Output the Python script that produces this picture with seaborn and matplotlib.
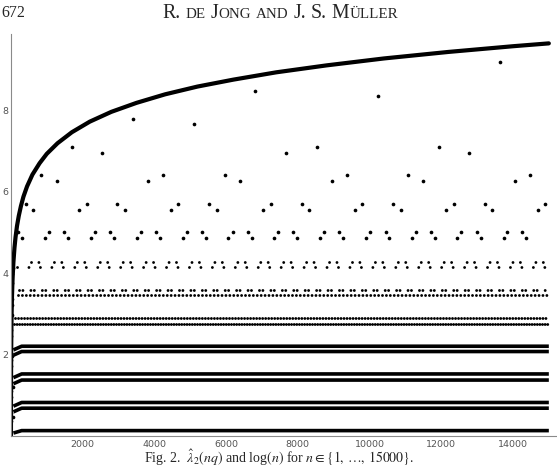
import pandas as pd
import seaborn as sns
import matplotlib.pyplot as plt

# upper curve log(n)
log_n = [1, 2, 3, 5, 7, 10, 15, 20, 30, 40, 50, 70, 100, 130, 170, 220, 280, 350,
         450, 600, 800, 1000, 1300, 1700, 2200, 2800, 3500, 4300, 5200, 6200, 7400,
         8800, 10400, 12200, 14000, 15000]
log_y = [0.0, 0.69, 1.10, 1.61, 1.95, 2.30, 2.71, 3.00, 3.40, 3.69, 3.91, 4.25,
         4.61, 4.87, 5.14, 5.39, 5.63, 5.86, 6.11, 6.40, 6.68, 6.91, 7.17, 7.44,
         7.70, 7.94, 8.16, 8.37, 8.56, 8.73, 8.91, 9.08, 9.25, 9.41, 9.55, 9.62]

# sparse rows of lambda_2(nq): level -> n positions
n_at_499 = [206, 1062, 1480, 2344, 2762, 3618, 4044, 4900, 5318, 6182, 6600, 7453,
            7871, 8735, 9153, 10005, 10446, 11290, 11708, 12564, 12999, 13846, 14264]
n_at_485 = [301, 950, 1600, 2224, 2873, 3506, 4155, 4788, 5429, 6059, 6711, 7341,
            7982, 8615, 9264, 9896, 10546, 11187, 11820, 12453, 13102, 13743, 14376]
n_at_569 = [412, 2113, 2965, 4666, 5530, 7241, 8105, 9794, 10658, 12350, 13214, 14905]
n_at_554 = [624, 1906, 3180, 4454, 5753, 7035, 8317, 9590, 10864, 12146, 13417, 14699]
n_at_638 = [839, 4247, 5967, 9375, 11076, 14487]
n_at_624 = [1276, 3829, 6385, 8941, 11494, 14069]
n_at_707 = [1695, 8523, 11931]
n_at_693 = [2547, 7667, 12776]
n_at_777 = [3395]
n_at_763 = [5111]
n_at_846 = [6803]
n_at_832 = [10223]
n_at_916 = [13631]
sparse_rows = {4.99: n_at_499, 4.85: n_at_485, 5.69: n_at_569, 5.54: n_at_554,
               6.38: n_at_638, 6.24: n_at_624, 7.07: n_at_707, 6.93: n_at_693,
               7.77: n_at_777, 7.63: n_at_763, 8.46: n_at_846, 8.32: n_at_832,
               9.16: n_at_916}

# scattered values for the first few n
small_n = [3, 4, 6, 7, 8, 9, 12, 14, 16, 18, 22, 25, 28, 32, 38, 45, 55, 65]
small_y = [0.35, 0.55, 0.95, 1.10, 1.25, 1.70, 1.85, 2.45, 2.60, 1.95, 2.95, 3.20,
           3.35, 3.75, 3.95, 4.10, 1.20, 0.45]

# dense rows drawn as solid bands
band_level = [0.12, 0.67, 0.81, 1.36, 1.51, 2.06, 2.19]
band_first = [0.06, 0.58, 0.72, 1.27, 1.42, 1.97, 2.10]
band_n = [70, 300, 15000]

# dotted rows: level, first n, last n
dot_level = [2.74, 2.88, 3.45, 3.58, 4.13, 4.26]
dot_start = [100, 110, 206, 234, 173, 552]
dot_end = [14980, 14980, 14950, 14950, 14950, 14900]

x_ticks = [2000, 4000, 6000, 8000, 10000, 12000, 14000]
y_ticks = [2, 4, 6, 8]

sns.set_style('white')
plt.rcParams['lines.scale_dashes'] = False
plt.rcParams['mathtext.fontset'] = 'stix'

W, H = 557, 477
fig = plt.figure(figsize=(W / 100, H / 100), dpi=100)
ax = fig.add_axes([10.9 / W, 40.5 / H, 545.1 / W, 401.5 / H])

# px -> pt for the dotted rows (35.86 px per 1000 n)
px_pt = 0.72
dot_styles = [(0, (0.01, 2.6 * px_pt)),
              (0, (0.01, 3.0 * px_pt, 0.01, 3.0 * px_pt)),
              (0, (0.01, 3.9 * px_pt)),
              (0, (0.01, 3.4 * px_pt, 0.01, 8.0 * px_pt)),
              (0, (0.01, 11.45 * px_pt)),
              (0, (0.01, 7.4 * px_pt, 0.01, 15.5 * px_pt))]

for lvl, first in zip(band_level, band_first):
    sns.lineplot(x=band_n, y=[first, lvl, lvl], ax=ax, color='black', lw=2.6,
                 estimator=None, solid_capstyle='butt')

for lvl, s, e, ls in zip(dot_level, dot_start, dot_end, dot_styles):
    sns.lineplot(x=[s, e], y=[lvl, lvl], ax=ax, color='black', lw=2.1,
                 estimator=None, linestyle=ls, dash_capstyle='round')

rows = []
for lvl, ns in sparse_rows.items():
    for n in ns:
        rows.append((n, lvl))
for n, y in zip(small_n, small_y):
    rows.append((n, y))
pts = pd.DataFrame(rows, columns=['n', 'val'])
sns.scatterplot(data=pts, x='n', y='val', ax=ax, color='black', s=7, linewidth=0)

sns.lineplot(x=log_n, y=log_y, ax=ax, color='black', lw=3.0, estimator=None)

ax.set_xlim(0, 15200)
ax.set_ylim(0, 9.85)
ax.set_xlabel('')
ax.set_ylabel('')
ax.set_xticks(x_ticks)
ax.set_xticklabels([str(t) for t in x_ticks])
ax.set_yticks(y_ticks)
ax.set_yticklabels([str(t) for t in y_ticks])
ax.set_xticks(range(500, 15001, 500), minor=True)
ax.set_yticks([v / 2 for v in range(1, 20)], minor=True)
for side in ['top', 'right']:
    ax.spines[side].set_visible(False)
for side in ['left', 'bottom']:
    ax.spines[side].set_color('#8a8a8a')
    ax.spines[side].set_linewidth(0.8)
ax.tick_params(which='major', direction='in', length=4, width=0.6, color='#8a8a8a',
               labelsize=6.8, labelcolor='#555555', pad=2.5)
ax.tick_params(which='minor', direction='in', length=2.2, width=0.5, color='#8a8a8a')
ax.tick_params(axis='y', pad=2)

# page header
serif = 'Liberation Serif'
fig.text(1 / W, 1 - 17 / H, '672', ha='left', va='baseline', family=serif, size=11.5)
pieces = [('R.', 14.3), (None, 5), ('DE', 10.8), (None, 5), ('J', 14.3), ('ONG', 10.8),
          (None, 5), ('AND', 10.8), (None, 5), ('J.', 14.3), (None, 5), ('S.', 14.3),
          (None, 5), ('M', 14.3), ('ÜLLER', 10.8)]
r = fig.canvas.get_renderer()
x = 162.0
for txt, size in pieces:
    if txt is None:
        x += size
        continue
    t = fig.text(x / W, 1 - 18 / H, txt, ha='left', va='baseline', family=serif, size=size)
    x += t.get_window_extent(r).width

fig.text(279 / W, 1 - 458 / H,
         r'Fig. 2.  $\hat{\lambda}_2(nq)$ and log$(n)$ for $n\in\{1,\,\ldots,\,15000\}$.',
         ha='center', va='center', family=serif, size=10)

fig.savefig('out.png', dpi=100)
